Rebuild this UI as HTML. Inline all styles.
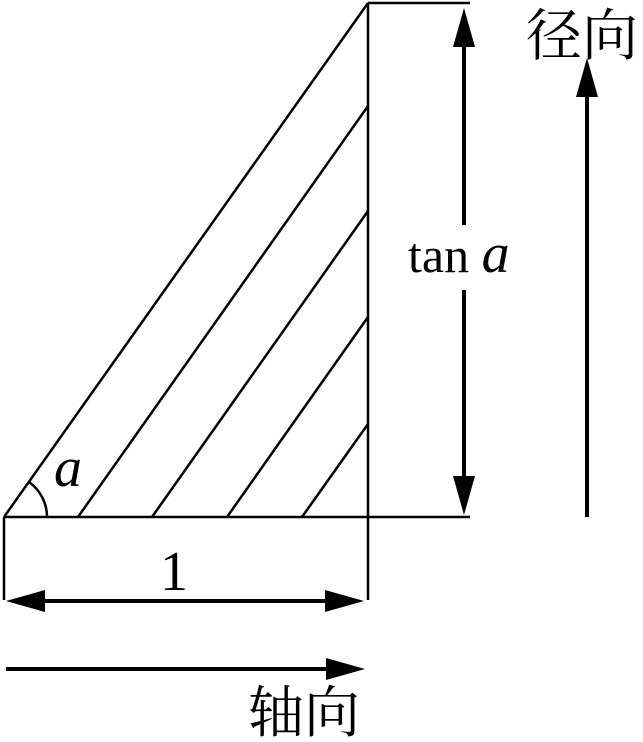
<!DOCTYPE html>
<html><head><meta charset="utf-8"><style>
html,body{margin:0;padding:0;background:#fff;}
svg{display:block}
</style></head><body>
<svg width="643" height="742" viewBox="0 0 643 742" xmlns="http://www.w3.org/2000/svg">
<g stroke="#000" stroke-width="2.5" fill="none">
<line x1="4" y1="517" x2="470" y2="517"/>
<line x1="4" y1="517" x2="368" y2="3"/>
<line x1="368" y1="3" x2="368" y2="600"/>
<line x1="368" y1="3" x2="470" y2="3"/>
<line x1="4" y1="517" x2="4" y2="600"/>
<line x1="78" y1="517" x2="368" y2="106"/>
<line x1="152" y1="517" x2="368" y2="211"/>
<line x1="227" y1="517" x2="368" y2="317"/>
<line x1="302" y1="517" x2="368" y2="424"/>
<path d="M47 517 A43 43 0 0 0 29 482"/>
</g>
<g stroke="#000" stroke-width="4" fill="none">
<line x1="40" y1="601" x2="330" y2="601"/>
<line x1="6" y1="669" x2="330" y2="669"/>
<line x1="464" y1="45" x2="464" y2="225"/>
<line x1="464" y1="290" x2="464" y2="478"/>
<line x1="587" y1="95" x2="587" y2="517"/>
</g>
<g fill="#000">
<polygon points="6,601 45,590 45,612"/>
<polygon points="364,601 325,590 325,612"/>
<polygon points="365,669 326,658 326,680"/>
<polygon points="464,8 453,47 475,47"/>
<polygon points="464,515 453,476 475,476"/>
<polygon points="587,58 576,97 598,97"/>
</g>
<g font-family="'Liberation Serif',serif" fill="#000">
<text x="54" y="486" font-size="56" font-style="italic">a</text>
<text x="160" y="590" font-size="56">1</text>
<text x="408" y="272" font-size="50">tan <tspan font-style="italic" font-size="56">a</tspan></text>
</g>
<g font-family="'Liberation Serif','Noto Serif CJK SC',serif" font-size="56" fill="#000">
<text x="248" y="732">轴向</text>
<text x="526" y="55">径向</text>
</g>
</svg>
</body></html>
